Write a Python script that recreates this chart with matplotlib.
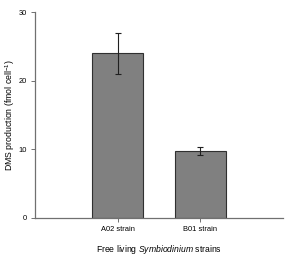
import matplotlib
matplotlib.use("Agg")
import matplotlib.pyplot as plt

# Données
strains = ["A02 strain", "B01 strain"]
dms = [24.0, 9.8]
err = [3.0, 0.6]

plt.rcParams['font.family'] = ['Liberation Sans', 'DejaVu Sans']
plt.rcParams['mathtext.fontset'] = 'custom'
plt.rcParams['mathtext.it'] = 'Liberation Sans:italic'
plt.rcParams['mathtext.rm'] = 'Liberation Sans'

fig = plt.figure(figsize=(3.01, 2.57), dpi=100)
ax = fig.add_axes([0.116, 0.152, 0.824, 0.801])

x = [1, 2]
ax.bar(x, dms, width=0.62, color='#808080', edgecolor='#303030', linewidth=0.8,
       yerr=err, capsize=2.5, error_kw=dict(elinewidth=0.8, capthick=0.8, ecolor='#202020'))

ax.set_xlim(0, 3)
ax.set_ylim(0, 30)
ax.set_yticks([0, 10, 20, 30])
ax.set_xticks(x)
ax.set_xticklabels(strains)
ax.tick_params(labelsize=5.4, length=3, width=0.7, color='#707070', pad=3)

for s in ['top', 'right']:
    ax.spines[s].set_visible(False)
for s in ['left', 'bottom']:
    ax.spines[s].set_color('#707070')
    ax.spines[s].set_linewidth(0.9)

ax.set_ylabel("DMS production (fmol cell$^{-1}$)", fontsize=6.3, va='center')
ax.yaxis.set_label_coords(-0.1, 0.5)
ax.set_xlabel(r"Free living $\it{Symbiodinium}$ strains", fontsize=6.2, labelpad=7)

fig.savefig("out.png", dpi=100)
